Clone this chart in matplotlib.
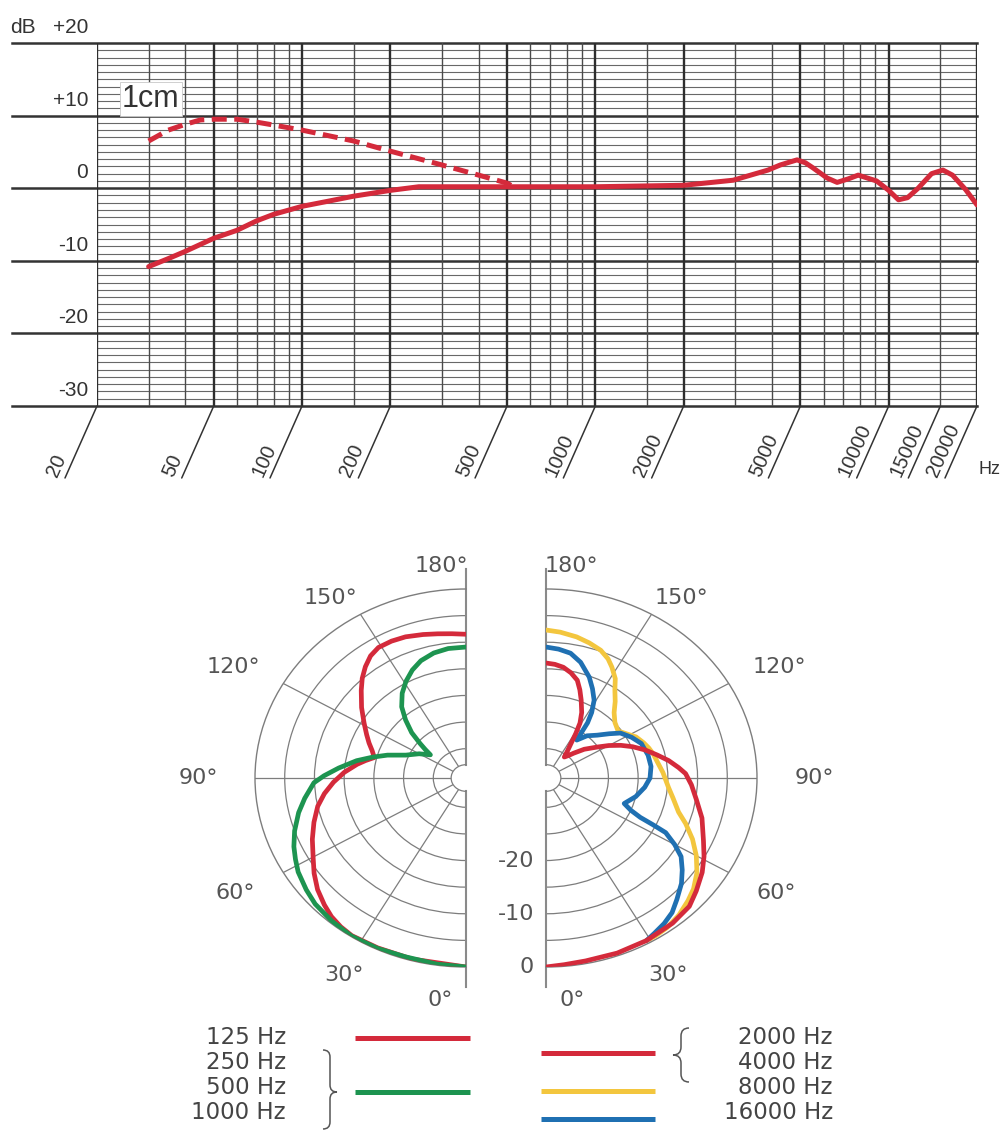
import numpy as np
import matplotlib
matplotlib.use("Agg")
import matplotlib.pyplot as plt
from matplotlib.path import Path
from matplotlib.patches import PathPatch

plt.rcParams['font.family'] = ['Liberation Sans', 'DejaVu Sans']

W, H = 1002, 1131
RED = '#d42a3b'
GREEN = '#1d9450'
YELLOW = '#f3c63e'
BLUE = '#1f70b2'
GRID = '#7d7d7d'

# --- frequency response (Hz, dB) ---
freq_solid = [30, 35, 40, 50, 60, 70, 80, 100, 150, 200, 250, 300, 500, 1000,
              2000, 2950, 3880, 4270, 4600, 4870, 5200, 5520, 6170, 6670, 7300, 7870, 9090,
              10000, 10800, 11600, 12600, 14000, 15300, 16500, 18300, 20000]
db_solid = [-10.8, -9.7, -8.7, -6.9, -5.8, -4.5, -3.6, -2.5, -1.1, -0.3, 0.2, 0.2, 0.2, 0.2,
            0.4, 1.1, 2.5, 3.2, 3.6, 3.9, 3.5, 2.8, 1.4, 0.8, 1.3, 1.8, 1.0,
            -0.3, -1.6, -1.3, 0.0, 2.0, 2.5, 1.8, -0.2, -2.3]

# near field (1 cm)
freq_dash = [30, 35, 40, 45, 50, 60, 70, 80, 100, 150, 200, 300, 400, 500, 520]
db_dash = [6.5, 8.0, 8.8, 9.4, 9.5, 9.5, 9.1, 8.7, 8.0, 6.5, 5.1, 3.2, 1.8, 0.7, 0.3]

grid_freqs = [20, 30, 40, 50, 60, 70, 80, 90, 100, 150, 200, 300, 400, 500, 600, 700,
              800, 900, 1000, 1500, 2000, 3000, 4000, 5000, 6000, 7000, 8000, 9000,
              10000, 15000, 20000]
tick_freqs = [20, 50, 100, 200, 500, 1000, 2000, 5000, 10000, 15000, 20000]
db_ticks = [-30, -20, -10, 0, 10, 20]
db_labels = ['-30', '-20', '-10', '0', '+10', '+20']

# --- polar patterns (angle deg, dB) ---
theta_125 = [180, 175, 170, 165, 159, 154, 149, 145, 141, 137, 133, 127, 121, 116, 112, 108,
             104, 101, 98, 93, 88, 83, 78, 72, 66, 60, 55, 50, 45, 41, 37, 33, 25, 15, 0]
db_125 = [-8.5, -8.3, -8.0, -7.6, -7.1, -6.9, -6.9, -7.5, -8.6, -9.9, -11.4, -13.5, -15.5,
          -16.9, -17.9, -18.9, -19.6, -18.3, -17.0, -15.0, -13.2, -11.5, -10.0, -8.6, -7.2,
          -5.8, -4.3, -2.9, -1.8, -1.0, -0.5, -0.2, -0.3, -0.3, 0.0]

theta_mid = [180, 173, 167, 161, 156, 151, 146, 141, 137, 133, 130, 128, 126, 120, 113, 108,
             104, 100, 95, 91, 88, 82, 77, 71, 66, 62, 58, 52, 47, 40, 33, 25, 17, 8, 0]
db_mid = [-10.9, -11.0, -11.4, -12.2, -13.3, -14.7, -16.3, -18.3, -20.6, -23.0, -25.4, -26.8,
          -28.1, -26.4, -24.5, -21.6, -19.3, -16.8, -14.0, -11.6, -9.9, -8.1, -6.6, -5.0,
          -3.8, -3.0, -2.2, -1.4, -0.8, -0.4, -0.1, -0.2, -0.4, -0.2, 0.0]

theta_hi = [180, 176, 172, 168, 164, 161, 158, 154, 151, 149, 147, 144.5, 142, 138, 135, 130,
            124, 120, 116, 112, 107.5, 103, 99, 95, 92, 87, 81, 74, 66, 61, 56, 50, 45, 38,
            29, 20, 11, 5, 0]
db_hi = [-13.9, -14.1, -14.5, -15.3, -16.4, -18.0, -19.7, -21.8, -23.7, -25.8, -27.8, -29.3,
         -30.5, -29.8, -28.9, -27.1, -25.1, -23.3, -21.5, -19.8, -18.0, -16.3, -14.6, -13.1,
         -12.0, -11.0, -9.9, -8.2, -6.5, -5.1, -3.8, -2.5, -1.4, -0.9, -0.6, -0.5, -0.5,
         -0.3, 0.0]

theta_8k = [180, 175, 169, 164, 159, 155, 152, 148, 145, 141, 137, 132, 126, 121, 117, 112,
            108, 104, 100, 93, 85, 80, 74, 70, 65, 60, 55, 50, 46, 41, 36, 32, 29]
db_8k = [-7.7, -8.0, -8.5, -9.1, -9.8, -10.8, -11.9, -13.5, -15.3, -17.0, -18.7, -19.9,
         -20.5, -19.5, -18.5, -17.8, -17.3, -16.9, -16.6, -15.8, -14.8, -13.8, -12.3, -10.5,
         -8.3, -6.3, -4.5, -3.1, -2.3, -1.4, -0.8, -0.6, -0.6]

theta_16k = [180, 175, 170, 165, 159, 155, 151, 148, 146, 144, 139, 133, 128, 124, 118, 112,
             104, 97, 90, 84, 77, 70, 67, 65, 64, 63, 60, 57, 53, 49, 44, 40, 36, 32, 29]
db_16k = [-10.9, -11.2, -11.7, -13.0, -15.2, -17.0, -18.8, -21.0, -23.0, -26.7, -25.0, -23.7,
          -22.0, -20.4, -19.2, -18.2, -17.8, -17.7, -18.0, -18.8, -20.0, -21.5, -20.0, -18.0,
          -15.5, -12.9, -10.5, -8.4, -6.8, -5.3, -3.8, -2.5, -1.7, -1.1, -0.6]

ring_db = [-30, -25, -20, -15, -10, -5]
spoke_deg = [30, 60, 90, 120, 150]
label_deg = [0, 30, 60, 90, 120, 150, 180]
label_pos = [6, 29, 61, 90, 118, 146, 174]
label_rho = [1.18, 1.19, 1.25, 1.27, 1.25, 1.15, 1.13]
r_labels = [-20, -10, 0]

left_labels = ['125 Hz', '250 Hz', '500 Hz', '1000 Hz']
right_labels = ['2000 Hz', '4000 Hz', '8000 Hz', '16000 Hz']

fig = plt.figure(figsize=(W / 100, H / 100), dpi=100)

# ---------------- frequency response ----------------
ax = fig.add_axes([97 / W, 1 - 406 / H, 880 / W, 363 / H])
ax.set_xscale('log')
ax.set_xlim(20, 20000)
ax.set_ylim(-30, 20)
ax.axis('off')

for v in range(-30, 21):
    if v % 10:
        ax.axhline(v, color='#686868', lw=0.8, zorder=1)
for v in db_ticks:
    ax.axhline(v, xmin=-85 / 880, xmax=1, color='#333333', lw=1.8, clip_on=False, zorder=2)
for f in grid_freqs:
    major = f in tick_freqs and f != 15000
    ax.axvline(f, color='#2e2e2e' if major else '#4a4a4a', lw=1.7 if major else 1.0, zorder=2)

ax.plot(freq_solid, db_solid, color=RED, lw=3.6, solid_capstyle='round',
        solid_joinstyle='round', zorder=5)
ax.plot(freq_dash, db_dash, color=RED, lw=3.6, dashes=(3, 1.5), zorder=5)

for f in tick_freqs:
    ax.annotate('', xy=(f, -30), xytext=(-32, -72), textcoords='offset pixels',
                arrowprops=dict(arrowstyle='-', color='#333333', lw=1.1, shrinkA=0, shrinkB=0),
                annotation_clip=False)
    ax.annotate(str(f), xy=(f, -30), xytext=(-40, -72), textcoords='offset pixels',
                rotation=66, rotation_mode='anchor', ha='left', va='baseline',
                fontsize=14.5, color='#333333', annotation_clip=False)
ax.annotate('Hz', xy=(20000, -30), xytext=(1, -68), textcoords='offset pixels',
            ha='left', va='baseline', fontsize=13, color='#333333', annotation_clip=False)

for v, lbl in zip(db_ticks, db_labels):
    ax.annotate(lbl, xy=(0, v), xycoords=('axes fraction', 'data'), xytext=(-9, 10),
                textcoords='offset pixels', ha='right', va='baseline', fontsize=15, color='#333333')
ax.annotate('dB', xy=(0, 20), xycoords=('axes fraction', 'data'), xytext=(-87, 10),
            textcoords='offset pixels', ha='left', va='baseline', fontsize=15, color='#333333')

ax.text(24.3, 11.2, '1cm', fontsize=22, va='baseline', ha='left', color='#333333', zorder=6,
        bbox=dict(fc='white', ec='#c8c8c8', lw=0.6, pad=1.5))

# ---------------- polar patterns ----------------
R0 = -35.5


def half_polar(cx, direction):
    a, b = 211, 189
    w, h = 2 * a, 2 * b
    left = cx - (0.75 * w if direction == -1 else 0.25 * w)
    pax = fig.add_axes([left / W, 1 - (778 + b) / H, w / W, h / H], projection='polar')
    pax.set_theta_zero_location('S')
    pax.set_theta_direction(direction)
    pax.set_thetamin(0)
    pax.set_thetamax(180)
    pax.set_rorigin(R0)
    pax.set_rlim(-33, 0)
    pax.set_aspect('auto')
    pax.set_facecolor('none')
    pax.set_yticks(ring_db)
    pax.set_yticklabels([])
    pax.set_xticks(np.deg2rad(spoke_deg))
    pax.set_xticklabels([])
    pax.grid(True, color=GRID, lw=0.9)
    pax.spines['polar'].set_edgecolor(GRID)
    pax.spines['polar'].set_linewidth(1.0)
    pax.spines['inner'].set_edgecolor(GRID)
    pax.spines['inner'].set_linewidth(0.9)
    pax.spines['start'].set_edgecolor('none')
    pax.spines['end'].set_edgecolor('none')
    for t in (0, np.pi):
        pax.plot([t, t], [-33, 3.8], color='#8a8a8a', lw=1.5, clip_on=False, zorder=2)
    for d, t, rho in zip(label_deg, label_pos, label_rho):
        pax.text(np.deg2rad(t), R0 - R0 * rho, f'{d}°', ha='center', va='center',
                 fontsize=16, family='DejaVu Sans', color='#555555')
    return pax


curve_kw = dict(lw=3.4, solid_joinstyle='round', solid_capstyle='round')

axl = half_polar(466, -1)
axl.plot(np.deg2rad(theta_125), db_125, color=RED, zorder=4, **curve_kw)
axl.plot(np.deg2rad(theta_mid), db_mid, color=GREEN, zorder=5, **curve_kw)

axr = half_polar(546, 1)
axr.plot(np.deg2rad(theta_8k), db_8k, color=YELLOW, zorder=3, **curve_kw)
axr.plot(np.deg2rad(theta_16k), db_16k, color=BLUE, zorder=4, **curve_kw)
axr.plot(np.deg2rad(theta_hi), db_hi, color=RED, zorder=5, **curve_kw)
for v in r_labels:
    axr.annotate(str(v), xy=(0, v), xytext=(-12, 0), textcoords='offset pixels',
                 ha='right', va='center', fontsize=16, family='DejaVu Sans', color='#555555')

# ---------------- legend ----------------
lg = fig.add_axes([0, 0, 1, 1])
lg.set_xlim(0, W)
lg.set_ylim(H, 0)
lg.axis('off')

rows = [1037 + 25.3 * i for i in range(4)]
for y, lbl in zip(rows, left_labels):
    lg.text(286, y, lbl, ha='right', va='center', fontsize=16.5, family='DejaVu Sans', color='#444444')
for y, lbl in zip(rows, right_labels):
    lg.text(833, y, lbl, ha='right', va='center', fontsize=16.5, family='DejaVu Sans', color='#444444')

for y, c in zip([1038, 1092], [RED, GREEN]):
    lg.plot([355, 470], [y, y], color=c, lw=3.6, solid_capstyle='butt')
for y, c in zip([1053, 1091, 1119], [RED, YELLOW, BLUE]):
    lg.plot([541, 655], [y, y], color=c, lw=3.6, solid_capstyle='butt')


def brace(x, y0, y1, ym, w, d):
    verts = [(x - d * w, y0), (x, y0), (x, y0 + w),
             (x, ym - w), (x, ym), (x + d * w, ym),
             (x, ym), (x, ym + w),
             (x, y1 - w), (x, y1), (x - d * w, y1)]
    codes = [Path.MOVETO, Path.CURVE3, Path.CURVE3,
             Path.LINETO, Path.CURVE3, Path.CURVE3,
             Path.CURVE3, Path.CURVE3,
             Path.LINETO, Path.CURVE3, Path.CURVE3]
    lg.add_patch(PathPatch(Path(verts, codes), fc='none', ec='#555555', lw=1.1))


brace(330, 1050, 1129, 1092, 7, 1)
brace(681, 1028, 1082, 1055, 8, -1)

fig.savefig('out.png', dpi=100)
